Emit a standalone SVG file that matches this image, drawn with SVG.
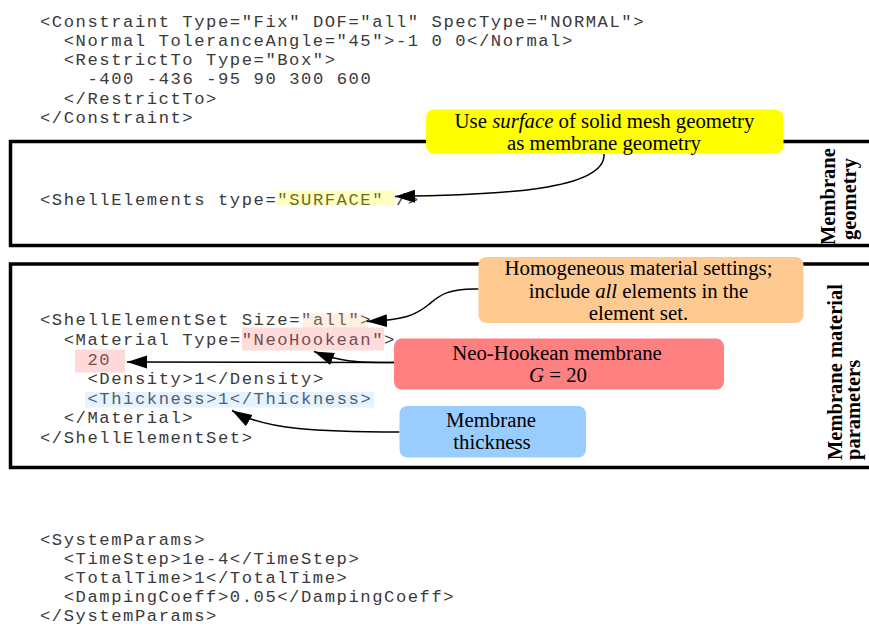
<svg xmlns="http://www.w3.org/2000/svg" width="869" height="626" viewBox="0 0 869 626">
  <style>
    .code { font-family: "Liberation Mono", "Courier New", monospace; font-size: 17.2px; letter-spacing: 1.55px; fill: #3a3a3a; }
    .note { font-family: "Liberation Serif", "Times New Roman", serif; font-size: 20.8px; fill: #000; text-anchor: middle; }
    .side { font-family: "Liberation Serif", "Times New Roman", serif; font-size: 20.5px; font-weight: bold; fill: #000; }
    .frame { fill: none; stroke: #000; stroke-width: 3.5; }
    .link { fill: none; stroke: #000; stroke-width: 1.5; }
    .hl { stroke: none; }
  </style>
  <defs>
    <marker id="arrow" markerUnits="userSpaceOnUse" markerWidth="22" markerHeight="14" refX="20" refY="6.5" orient="auto">
      <path d="M0,0 L20,6.5 L0,13 Z" fill="#000"/>
    </marker>
  </defs>

  <rect width="869" height="626" fill="#fff"/>

  <!-- section frames (open to the right) -->
  <g id="frames">
    <rect class="frame" x="10.5" y="141.5" width="880" height="104"/>
    <rect class="frame" x="10.5" y="264" width="880" height="203.5"/>
  </g>

  <!-- code listing -->
  <g id="code-constraint" class="code">
    <text x="40" y="26.5">&lt;Constraint Type="Fix" DOF="all" SpecType="NORMAL"&gt;</text>
    <text x="63.7" y="45.8">&lt;Normal ToleranceAngle="45"&gt;-1 0 0&lt;/Normal&gt;</text>
    <text x="63.7" y="65">&lt;RestrictTo Type="Box"&gt;</text>
    <text x="87.5" y="84.2">-400 -436 -95 90 300 600</text>
    <text x="63.7" y="103.5">&lt;/RestrictTo&gt;</text>
    <text x="40" y="122.8">&lt;/Constraint&gt;</text>
  </g>

  <g id="code-shell-elements" class="code">
    <text x="40" y="204.5">&lt;ShellElements type="SURFACE" /&gt;</text>
  </g>

  <g id="code-shell-element-set" class="code">
    <text x="40" y="325">&lt;ShellElementSet Size="all"&gt;</text>
    <text x="63.7" y="345">&lt;Material Type="NeoHookean"&gt;</text>
    <text x="87.5" y="365">20</text>
    <text x="87.5" y="384.4">&lt;Density&gt;1&lt;/Density&gt;</text>
    <text x="87.5" y="404">&lt;Thickness&gt;1&lt;/Thickness&gt;</text>
    <text x="63.7" y="423.4">&lt;/Material&gt;</text>
    <text x="40" y="443.2">&lt;/ShellElementSet&gt;</text>
  </g>

  <g id="code-system-params" class="code">
    <text x="40" y="545">&lt;SystemParams&gt;</text>
    <text x="63.7" y="564">&lt;TimeStep&gt;1e-4&lt;/TimeStep&gt;</text>
    <text x="63.7" y="582.8">&lt;TotalTime&gt;1&lt;/TotalTime&gt;</text>
    <text x="63.7" y="601.7">&lt;DampingCoeff&gt;0.05&lt;/DampingCoeff&gt;</text>
    <text x="40" y="620.6">&lt;/SystemParams&gt;</text>
  </g>

  <!-- translucent highlights laid over the code -->
  <g id="highlights">
    <rect class="hl" x="278" y="190.5" width="116" height="15.5" fill="#ffff00" opacity="0.25"/>
    <rect class="hl" x="303" y="313.3" width="63" height="14.5" fill="#ffc992" opacity="0.28"/>
    <rect class="hl" x="242" y="327.5" width="142" height="23" fill="#ff8080" opacity="0.28"/>
    <rect class="hl" x="75" y="349.5" width="50" height="23" fill="#ff8080" opacity="0.3"/>
    <rect class="hl" x="85" y="391.8" width="289" height="15.8" fill="#99ccff" opacity="0.25"/>
  </g>

  <!-- connectors -->
  <g id="connectors">
    <path class="link" d="M604,154 C606,190 500,195 395,196.5" marker-end="url(#arrow)"/>
    <path class="link" d="M478.5,289 C446,288 438,297 428,305 C416,315 404,320 367,321.5" marker-end="url(#arrow)"/>
    <path class="link" d="M394,362.5 L127,362" marker-end="url(#arrow)"/>
    <path class="link" d="M394,362.5 C358,362.5 340,362 314,351.5" marker-end="url(#arrow)"/>
    <path class="link" d="M399.5,432 C320,432 265,430 232,410.5" marker-end="url(#arrow)"/>
  </g>

  <!-- callouts -->
  <g id="note-surface">
    <rect x="426" y="109.5" width="357.5" height="44" rx="8" fill="#ffff00"/>
    <text class="note" x="604.5" y="127.5">Use <tspan font-style="italic">surface</tspan> of solid mesh geometry</text>
    <text class="note" x="604" y="150">as membrane geometry</text>
  </g>

  <g id="note-homogeneous">
    <rect x="478.5" y="257" width="325" height="66" rx="8" fill="#ffc992"/>
    <text class="note" x="638.5" y="275">Homogeneous material settings;</text>
    <text class="note" x="638.5" y="297.5">include <tspan font-style="italic">all</tspan> elements in the</text>
    <text class="note" x="638.5" y="319.5">element set.</text>
  </g>

  <g id="note-neohookean">
    <rect x="394" y="338.5" width="330" height="51" rx="8" fill="#ff8080"/>
    <text class="note" x="557" y="360">Neo-Hookean membrane</text>
    <text class="note" x="558" y="382.3"><tspan font-style="italic">G</tspan> = 20</text>
  </g>

  <g id="note-thickness">
    <rect x="399.5" y="406" width="186.5" height="51.5" rx="8" fill="#99ccff"/>
    <text class="note" x="491" y="426.7">Membrane</text>
    <text class="note" x="492" y="449.3">thickness</text>
  </g>

  <!-- section titles -->
  <g id="label-geometry" class="side">
    <text transform="translate(835,245) rotate(-90)">Membrane</text>
    <text transform="translate(856,240) rotate(-90)">geometry</text>
  </g>
  <g id="label-material" class="side">
    <text transform="translate(842,460) rotate(-90)">Membrane material</text>
    <text transform="translate(860,460) rotate(-90)">parameters</text>
  </g>
</svg>
